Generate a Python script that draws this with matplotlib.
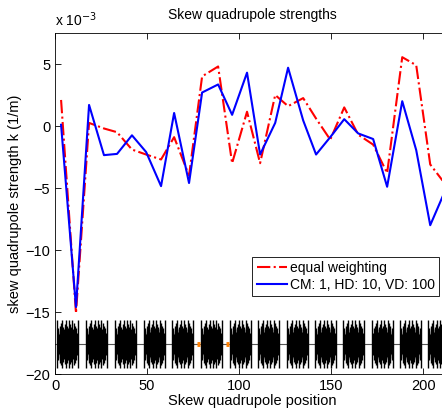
import matplotlib
matplotlib.use('Agg')
import matplotlib.pyplot as plt
import numpy as np

plt.rcParams['font.family'] = ['Liberation Sans', 'DejaVu Sans']

# skew quadrupole positions and strengths (units of 1e-3 1/m)
position = [3.3, 11.4, 18.5, 26.6, 33.7, 41.8, 49.5, 57.6, 64.7, 72.8, 79.9, 88.6, 96.2, 104.3,
            111.4, 119.6, 126.6, 134.8, 141.8, 149.5, 157.1, 164.7, 172.8, 180.4, 188.6, 196.2,
            203.8, 210.5]
equal_weighting = [2.1, -15.1, 0.25, -0.2, -0.5, -1.9, -2.3, -2.7, -0.9, -4.0, 4.0, 4.8, -3.0, 1.15,
                   -3.0, 2.5, 1.6, 2.25, 0.6, -1.1, 1.5, -0.7, -1.5, -3.8, 5.55, 4.9,
                   -3.1, -4.4]
weighted = [0.1, -14.6, 1.7, -2.35, -2.25, -0.75, -2.1, -4.85, 1.05, -4.6, 2.7, 3.35, 0.9, 4.3,
            -2.3, 0.25, 4.7, 0.45, -2.3, -0.9, 0.55, -0.6, -1.05, -4.9, 2.0, -1.95,
            -8.0, -5.7]

# lattice sketch: cell start positions and one cell's element offsets / half heights
cell_starts = [1.1, 16.8, 32.6, 48.4, 63.6, 79.3, 95.1, 110.3, 126.1, 141.3, 156.5, 172.3, 187.5, 202.7]
cell_offsets = [0.0, 0.35, 0.7, 1.05, 1.4, 1.75, 2.1, 2.45, 2.8, 3.15, 3.5, 3.85, 4.2, 4.55,
                4.9, 5.25, 5.6, 5.95, 6.3, 6.65, 7.0, 7.35, 7.7, 8.05, 8.4, 8.75, 9.1, 9.45,
                9.8, 10.15, 10.5, 10.85, 11.2]
cell_half = [1.95, 0.9, 1.3, 0.8, 1.5, 1.1, 1.7, 1.2, 1.95, 1.0, 1.4, 1.2, 1.6, 1.1,
             1.95, 1.3, 1.5, 1.3, 1.95, 1.1, 1.6, 1.2, 1.4, 1.0, 1.95, 1.2, 1.7, 1.1,
             1.5, 0.8, 1.3, 0.9, 1.95]
orange_pos = [77.7, 93.5]
lattice_y = -17.6

fig = plt.figure(figsize=(4.42, 4.09), dpi=100)
ax = fig.add_axes([55 / 442, 35 / 409, 394 / 442, 341 / 409])

# lattice
ax.plot([0, 215], [lattice_y, lattice_y], color='#555555', lw=0.8, zorder=1)
for s in cell_starts:
    xs = [s + o for o in cell_offsets]
    ax.vlines(xs, [lattice_y - h for h in cell_half], [lattice_y + h for h in cell_half],
              color='black', lw=1.0, zorder=2)
    ax.fill_between([s + 1.0, s + 10.2], lattice_y - 0.7, lattice_y + 0.7, color='black', lw=0, zorder=2)
for p in orange_pos:
    ax.plot([p - 0.8, p + 0.8], [lattice_y, lattice_y], color='#ff7f00', lw=3.5,
            solid_capstyle='butt', zorder=3)

ax.plot(position, equal_weighting, color='red', ls='-.', lw=1.5, label='equal weighting', zorder=4)
ax.plot(position, weighted, color='blue', ls='-', lw=1.5, label='CM: 1, HD: 10, VD: 100', zorder=5)

ax.set_xlim(0, 214)
ax.set_ylim(-20, 7.5)
ax.set_xticks([0, 50, 100, 150, 200])
ax.set_yticks([-20, -15, -10, -5, 0, 5])
ax.tick_params(direction='in', top=True, right=True, labelsize=10.5, length=4, width=0.6)
for sp in ax.spines.values():
    sp.set_linewidth(0.6)

ax.set_title('Skew quadrupole strengths', fontsize=10, pad=10)
ax.set_xlabel('Skew quadrupole position', fontsize=10.5, labelpad=1)
ax.set_ylabel('skew quadrupole strength k (1/m)', fontsize=10.5, labelpad=2)
ax.text(0.0, 1.012, 'x 10$^{-3}$', transform=ax.transAxes, fontsize=10, va='bottom', ha='left')

leg = ax.legend(loc='lower right', bbox_to_anchor=(0.975, 0.229), fontsize=10, fancybox=False,
                framealpha=1, edgecolor='black', borderpad=0.3, labelspacing=0.2,
                handlelength=2.2, handletextpad=0.2, borderaxespad=0)
leg.get_frame().set_linewidth(0.6)

fig.savefig('out.png', dpi=100)
